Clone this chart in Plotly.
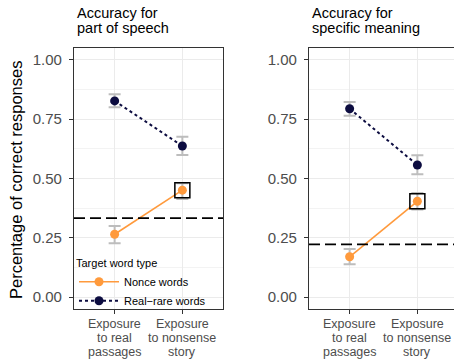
import plotly.graph_objects as go

# ---------------- data ----------------
categories = [1, 2]
cat_label_lines = [["Exposure", "to real", "passages"],
                   ["Exposure", "to nonsense", "story"]]
panel_titles = [["Accuracy for", "part of speech"],
                ["Accuracy for", "specific meaning"]]

# part of speech
pos_real = [0.827, 0.637]
pos_real_hi = [0.855, 0.676]
pos_real_lo = [0.800, 0.599]
pos_nonce = [0.265, 0.451]
pos_nonce_hi = [0.300, 0.480]
pos_nonce_lo = [0.227, 0.414]
pos_chance = 1 / 3

# specific meaning
mean_real = [0.794, 0.557]
mean_real_hi = [0.822, 0.598]
mean_real_lo = [0.764, 0.518]
mean_nonce = [0.170, 0.404]
mean_nonce_hi = [0.203, 0.439]
mean_nonce_lo = [0.139, 0.369]
mean_chance = 0.222

y_tickvals = [0, 0.25, 0.5, 0.75, 1.0]
y_ticktext = ["0.00", "0.25", "0.50", "0.75", "1.00"]
y_minor = [0.125, 0.375, 0.625, 0.875]

series_names = ["Nonce words", "Real\u2212rare words"]
legend_title = "Target word type"
y_title = "Percentage of correct responses"

# ---------------- style ----------------
W, H = 454, 363
FONT = "Liberation Sans, Arial, sans-serif"
NONCE_C = "#FF9A3C"
REAL_C = "#0C0C40"
ERR_C = "#BDBDBD"
GRID_C = "#EBEBEB"
AX_C = "#333333"
TXT_C = "#4D4D4D"

fig = go.Figure()


def err(vals, hi, lo):
    return dict(type="data", symmetric=False,
                array=[h - v for h, v in zip(hi, vals)],
                arrayminus=[v - l for v, l in zip(vals, lo)],
                color=ERR_C, thickness=2, width=6)


panels = [
    ("x", "y", pos_nonce, pos_nonce_hi, pos_nonce_lo, pos_real, pos_real_hi, pos_real_lo, pos_chance, True),
    ("x2", "y2", mean_nonce, mean_nonce_hi, mean_nonce_lo, mean_real, mean_real_hi, mean_real_lo, mean_chance, False),
]

for xa, ya, nv, nh, nl, rv, rh, rl, ch, leg in panels:
    fig.add_trace(go.Scatter(
        x=categories, y=nv, xaxis=xa, yaxis=ya, mode="lines+markers",
        name=series_names[0], showlegend=leg, legendgroup="n",
        line=dict(color=NONCE_C, width=1.6),
        marker=dict(color=NONCE_C, size=9),
        error_y=err(nv, nh, nl)))
    fig.add_trace(go.Scatter(
        x=categories, y=rv, xaxis=xa, yaxis=ya, mode="lines+markers",
        name=series_names[1], showlegend=leg, legendgroup="r",
        line=dict(color=REAL_C, width=2, dash="dot"),
        marker=dict(color=REAL_C, size=9),
        error_y=err(rv, rh, rl)))
    # highlight square around nonce point in nonsense-story condition
    fig.add_trace(go.Scatter(
        x=[categories[1]], y=[nv[1]], xaxis=xa, yaxis=ya, mode="markers",
        showlegend=False, hoverinfo="skip",
        marker=dict(symbol="square-open", size=15, color="black",
                    line=dict(width=1.5, color="black"))))
    fig.add_shape(type="line", xref=f"{xa} domain", yref=ya,
                  x0=0, x1=1, y0=ch, y1=ch,
                  line=dict(color="black", width=1.7, dash="11px,5px"))

# layout geometry (pixels)
left_x0, left_x1 = 74, 223
right_x0 = 309
top_px, bot_px = 48, 309
px_per_unit = (left_x1 - left_x0) / 2.2

ydom = [(H - bot_px) / H, (H - top_px) / H]
yaxis_common = dict(range=[-0.05, 1.05], domain=ydom,
                    tickvals=y_tickvals, ticktext=y_ticktext,
                    ticks="outside", ticklen=4, tickcolor=AX_C, tickwidth=1,
                    ticklabelstandoff=4,
                    tickfont=dict(size=15, color=TXT_C, family=FONT),
                    showgrid=True, gridcolor=GRID_C, gridwidth=1.1,
                    minor=dict(tickvals=y_minor, showgrid=True, gridcolor=GRID_C,
                               gridwidth=0.6, ticks=""),
                    zeroline=False, showline=True, linecolor=AX_C, linewidth=1.1,
                    fixedrange=True)
xaxis_common = dict(tickvals=categories, showticklabels=False,
                    ticks="outside", ticklen=4, tickcolor=AX_C, tickwidth=1,
                    showgrid=True, gridcolor=GRID_C, gridwidth=1.1,
                    zeroline=False, showline=True, linecolor=AX_C, linewidth=1.1,
                    mirror=True, fixedrange=True)

fig.update_layout(
    width=W, height=H, margin=dict(l=0, r=0, t=0, b=0),
    paper_bgcolor="white", plot_bgcolor="white",
    font=dict(family=FONT, color="black"),
    xaxis=dict(xaxis_common, domain=[left_x0 / W, left_x1 / W], range=[0.4, 2.6], anchor="y"),
    yaxis=dict(yaxis_common, anchor="x", mirror=True),
    xaxis2=dict(xaxis_common, domain=[right_x0 / W, 1.0],
                range=[0.4, 0.4 + (W - right_x0) / px_per_unit], anchor="y2"),
    yaxis2=dict(yaxis_common, anchor="x2", mirror=False),
    legend=dict(x=74 / W, xanchor="left", y=(H - 316) / H, yanchor="bottom",
                bgcolor="rgba(0,0,0,0)", borderwidth=0,
                font=dict(size=11, family=FONT, color="black"),
                title=dict(text=legend_title, font=dict(size=11, family=FONT, color="black")),
                tracegroupgap=0, itemwidth=40),
    showlegend=True,
)

annotations = []
# panel titles
for (x0px, lines) in zip([left_x0 + 1, right_x0 + 1], panel_titles):
    for i, line in enumerate(lines):
        annotations.append(dict(text=line, xref="paper", yref="paper",
                                x=x0px / W, y=(H - (13 + 15.5 * i)) / H,
                                xanchor="left", yanchor="middle", showarrow=False,
                                font=dict(size=14.5, family=FONT, color="black")))
# x category labels
line_y_px = [324, 337.7, 351.5]
for xa in ["x", "x2"]:
    for c, lines in zip(categories, cat_label_lines):
        for i, line in enumerate(lines):
            annotations.append(dict(text=line, xref=xa, yref="paper",
                                    x=c, y=(H - line_y_px[i]) / H,
                                    xanchor="center", yanchor="middle", showarrow=False,
                                    font=dict(size=12.5, family=FONT, color=TXT_C)))
# y axis title
annotations.append(dict(text=y_title, xref="paper", yref="paper",
                        x=16 / W, y=(H - 180) / H, textangle=-90,
                        xanchor="center", yanchor="middle", showarrow=False,
                        font=dict(size=16.5, family=FONT, color="black")))
fig.update_layout(annotations=annotations)

fig.write_html("out.html",
               config={"displayModeBar": False, "staticPlot": True},
               post_script="document.body.style.margin='0px';"
                           "document.body.style.overflow='hidden';")
